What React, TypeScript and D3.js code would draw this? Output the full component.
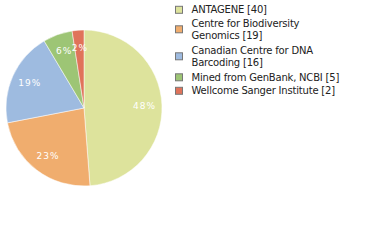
import React from "react";
import * as d3 from "d3";

const categories = ["ANTAGENE", "Centre for Biodiversity Genomics", "Canadian Centre for DNA Barcoding", "Mined from GenBank, NCBI", "Wellcome Sanger Institute"];
const values = [40, 19, 16, 5, 2];
const legendLines = [["ANTAGENE [40]"], ["Centre for Biodiversity", "Genomics [19]"], ["Canadian Centre for DNA", "Barcoding [16]"], ["Mined from GenBank, NCBI [5]"], ["Wellcome Sanger Institute [2]"]];
const colors = ["#dde39c", "#f0ad6e", "#9ebbe0", "#9dc575", "#e0735a"];

export default function App() {
  const cx = 84, cy = 108, r = 78;
  const total = d3.sum(values);
  const pie = d3.pie<number>().sort(null).value(d => d)(values);
  const arc = d3.arc<d3.PieArcDatum<number>>().innerRadius(0).outerRadius(r);
  const labelArc = d3.arc<d3.PieArcDatum<number>>().innerRadius(r * 0.77).outerRadius(r * 0.77);
  const lineH = 12;
  let y = 9.8;
  const rows = legendLines.map((lines, i) => {
    const top = y;
    y += lines.length * lineH + (lines.length > 1 ? 3 : 1.5);
    return { lines, top, i };
  });
  return (
    <svg width={380} height={240} style={{ position: "absolute", left: 0, top: 0 }} fontFamily="DejaVu Sans">
      <g transform={`translate(${cx},${cy})`}>
        {pie.map((p, i) => (
          <path key={i} d={arc(p) || ""} fill={colors[i]} stroke="#ffffff" strokeWidth={0.5} />
        ))}
        {pie.map((p, i) => {
          const [x, yy] = labelArc.centroid(p);
          return (
            <text key={i} x={x + 0.5} y={yy} fill="#fff" fontSize={9} letterSpacing={1} textAnchor="middle" dominantBaseline="central">
              {Math.floor((values[i] / total) * 100)}%
            </text>
          );
        })}
      </g>
      {rows.map(({ lines, top, i }) => {
        const sqY = top + ((lines.length - 1) * lineH) / 2 - 4;
        return (
          <g key={i}>
            <rect x={175.5} y={sqY + 0.5} width={7} height={7} fill={colors[i]} stroke="#777" strokeWidth={1} />
            {lines.map((l, j) => (
              <text key={j} x={191.5} y={top + j * lineH} fontSize={10} letterSpacing={-0.2} fill="#222" dominantBaseline="central">{l}</text>
            ))}
          </g>
        );
      })}
    </svg>
  );
}
